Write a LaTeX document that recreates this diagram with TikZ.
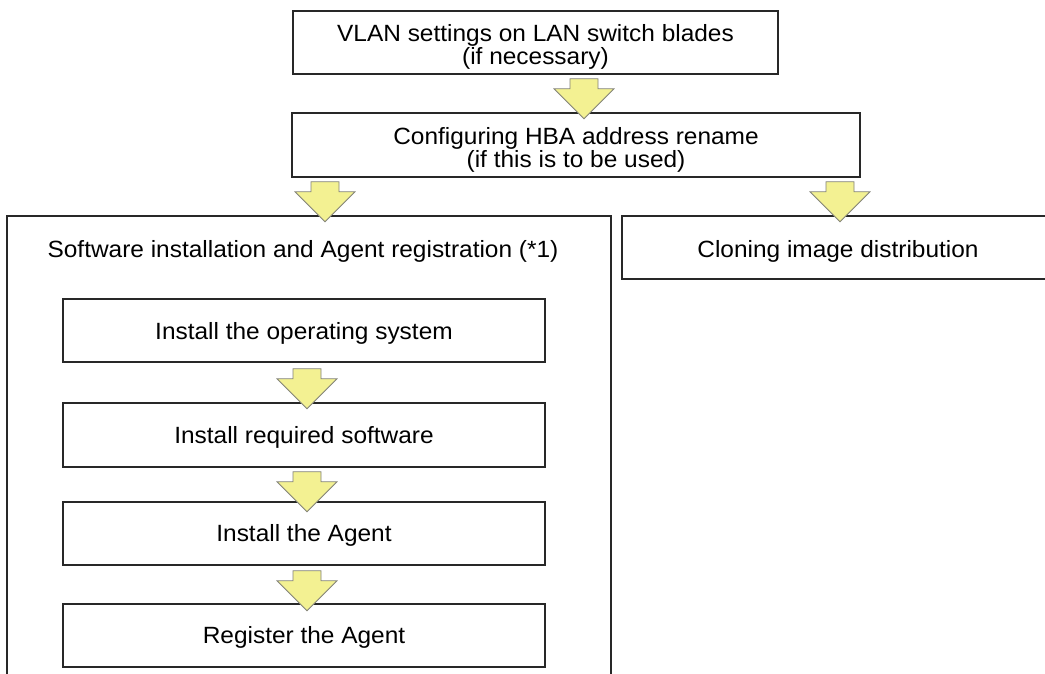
\documentclass[tikz,border=0pt]{standalone}
\usepackage{fontspec}
\setmainfont{Liberation Sans}[FakeStretch=1.04]
\usetikzlibrary{calc}
\definecolor{arrowfill}{RGB}{243,241,146}
\definecolor{arrowline}{RGB}{130,130,120}
\definecolor{boxline}{RGB}{40,40,40}
\tikzset{
  box/.style={draw=boxline, line width=1.6pt, fill=white, rectangle, inner sep=0pt,
    align=center, font=\fontsize{23.5}{23.5}\selectfont},
  lbl/.style={inner sep=0pt, align=center, font=\fontsize{23.5}{23}\selectfont},
  bigarrow/.pic={
    \draw[draw=arrowline, line width=0.8pt, fill=arrowfill, line join=miter]
      (-14,0) -- (14,0) -- (14,10) -- (30,10) -- (0,40) -- (-30,10) -- (-14,10) -- cycle;
  }
}
\begin{document}
\begin{tikzpicture}[x=1pt, y=-1pt]
\useasboundingbox (0,0) rectangle (1045,673);
\fill[white] (0,0) rectangle (1045,673);

% outer containers
\node[box, minimum width=604pt, minimum height=480pt] (sw) at (309,456) {};
\node[box, minimum width=432pt, minimum height=63pt] (clone) at (838,247.5) {};

% top boxes
\node[box, minimum width=485pt, minimum height=63pt] (vlan) at (535.5,42.5) {};
\node[lbl] (vlantxt) at ($(vlan.center)+(0,4)$)
  {VLAN settings on LAN switch blades\\(if necessary)};
\node[box, minimum width=568pt, minimum height=64pt] (hba) at (576,145) {};
\node[lbl] (hbatxt) at ($(hba.center)+(0,5)$)
  {Configuring HBA address rename\\(if this is to be used)};

% labels in containers
\node[lbl, anchor=base] (swlbl) at (303,257) {Software installation and Agent registration (*1)};
\node[lbl, anchor=base] (clonelbl) at (838,257) {Cloning image distribution};

% inner steps
\node[box, minimum width=482pt, minimum height=63pt] (os) at (304,330.5) {};
\node[lbl, anchor=base] (ostxt) at ($(os.center)+(0,9)$) {Install the operating system};
\node[box, minimum width=482pt, minimum height=64pt] (req) at (304,435) {};
\node[lbl, anchor=base] (reqtxt) at ($(req.center)+(0,8)$) {Install required software};
\node[box, minimum width=482pt, minimum height=63pt] (inst) at (304,533.5) {};
\node[lbl, anchor=base] (insttxt) at ($(inst.center)+(0,8)$) {Install the Agent};
\node[box, minimum width=482pt, minimum height=63pt] (reg) at (304,635.5) {};
\node[lbl, anchor=base] (regtxt) at ($(reg.center)+(0,8)$) {Register the Agent};

% block arrows (connectors)
\pic at ($(vlan.south)+(48.5,4)$) {bigarrow};
\pic at ($(hba.south -| sw.north)+(16,4)$) {bigarrow};
\pic at ($(hba.south)+(264,4)$) {bigarrow};
\pic at ($(os.south)+(3,6)$) {bigarrow};
\pic at ($(req.south)+(3,4)$) {bigarrow};
\pic at ($(inst.south)+(3,5)$) {bigarrow};
\end{tikzpicture}
\end{document}
